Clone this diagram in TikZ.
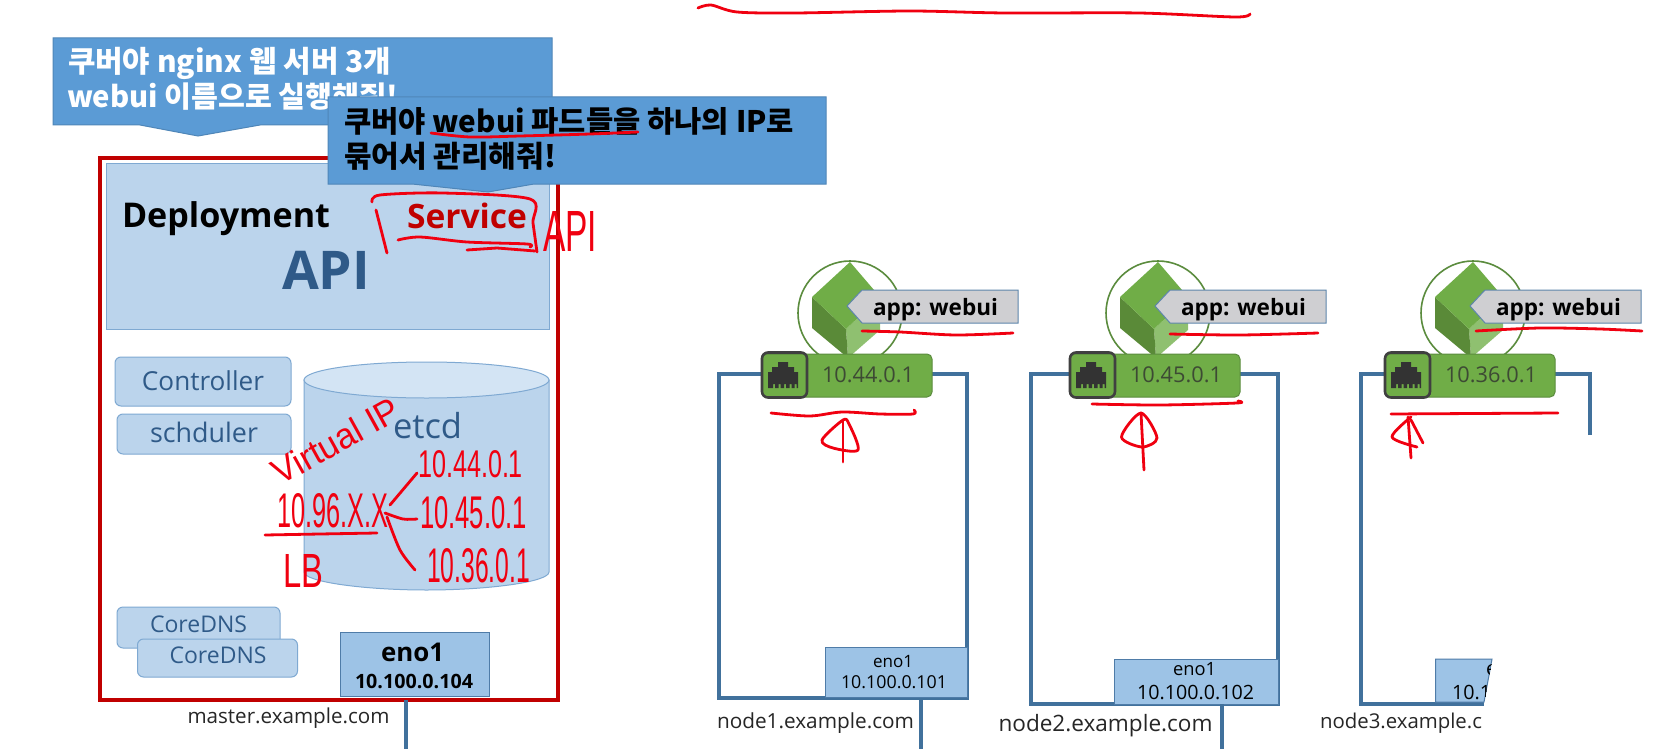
\documentclass[tikz,border=0pt]{standalone}
\usepackage{fontspec}
\setmainfont{Open Sans}
\newfontfamily\kr{Noto Sans CJK KR}
\newfontfamily\handf{Liberation Sans}
\definecolor{calloutfill}{HTML}{5B9BD5}
\definecolor{calloutedge}{HTML}{4F86B8}
\definecolor{mastred}{HTML}{C00000}
\definecolor{lightblue}{HTML}{BBD4EC}
\definecolor{lightedge}{HTML}{7FA9D2}
\definecolor{cyltop}{HTML}{D3E4F4}
\definecolor{darkblue}{HTML}{2F5A88}
\definecolor{enofill}{HTML}{9DC3E6}
\definecolor{enoedge}{HTML}{4F7CA8}
\definecolor{nodeline}{HTML}{41719C}
\definecolor{podmid}{HTML}{70AD47}
\definecolor{poddark}{HTML}{5A8A38}
\definecolor{podlight}{HTML}{8FC070}
\definecolor{podedge}{HTML}{5B8C3E}
\definecolor{iptext}{HTML}{3D4A34}
\definecolor{tagfill}{HTML}{CFCFD2}
\definecolor{pen}{HTML}{F00010}
\newcommand{\fitw}[2]{\resizebox{#1pt}{!}{#2}}
\newcommand{\hw}[3]{\resizebox{#1pt}{#2pt}{\handf #3}}
\tikzset{
  txt/.style={inner sep=0pt,outer sep=0pt,anchor=base},
  txtw/.style={inner sep=0pt,outer sep=0pt,anchor=base west},
  boxnw/.style={anchor=north west,inner sep=0pt,outer sep=0pt},
  apibox/.style={boxnw,fill=lightblue,draw=lightedge,line width=1pt},
  compbox/.style={boxnw,fill=lightblue,draw=lightedge,line width=1pt,rounded corners=6pt},
  enobox/.style={boxnw,fill=enofill,draw=enoedge,line width=1pt},
  callout/.style={fill=calloutfill,draw=calloutedge,line width=1pt},
  hostframe/.style={draw=nodeline,line width=4pt,line cap=butt,line join=miter},
  wire/.style={draw=nodeline,line width=3.5pt},
  penline/.style={draw=pen,line width=2.8pt,line cap=round,line join=round},
  blue label/.style={txt,text=darkblue},
  plain label/.style={txtw,text=black!85},
  penhand/.style={txtw,text=pen}
}
\newcommand{\podgroup}[3]{%
  \begin{scope}[shift={(#2,0)}]
    \node[circle,draw=podedge,line width=1.6pt,minimum size=104pt,inner sep=0pt] (pod#1) at (850,313) {};
    \fill[podlight] (846,329) -- (880,297) -- (880,330) -- (848,358) -- cycle;
    \fill[poddark] (812,297) -- (846,329) -- (848,358) -- (812,328) -- cycle;
    \fill[podmid] (850,262) -- (880,297) -- (846,329) -- (812,297) -- cycle;
    \node[boxnw,fill=podmid,draw=podedge,line width=1pt,rounded corners=5pt,minimum width=170pt,minimum height=43pt] (ip#1) at (762,354) {};
    \node[txtw,text=iptext] (iptxt#1) at (822,382) {\fitw{92}{#3}};
    \node[boxnw,draw=black!75,line width=2.6pt,rounded corners=6pt,minimum width=45pt,minimum height=45pt] (port#1) at (762,352.5) {};
    \fill[black!80] (778,362) -- (788,362) -- (788,367) -- (794,367) -- (794,372) -- (798,372) -- (798,388)
      -- (796.5,388) -- (796.5,384) -- (794.5,384) -- (794.5,388) -- (791.5,388) -- (791.5,384) -- (789.5,384) -- (789.5,388)
      -- (786,388) -- (786,384) -- (784,384) -- (784,388) -- (780.5,388) -- (780.5,384) -- (778.5,384) -- (778.5,388)
      -- (775,388) -- (775,384) -- (773,384) -- (773,388) -- (768,388) -- (768,372) -- (772,372) -- (772,367) -- (778,367) -- cycle;
    \draw[fill=tagfill,draw=nodeline!85,line width=1pt] (847,306) -- (862,290) -- (1018,290) -- (1018,323) -- (862,323) -- cycle;
    \node[txtw,font=\bfseries,text=black] (tag#1) at (873,315) {\fitw{125}{app: webui}};
  \end{scope}%
}
\begin{document}
\begin{tikzpicture}[x=1pt,y=-1pt]
\useasboundingbox (0,0) rectangle (1669,749);
\fill[white] (0,0) rectangle (1669,749);

% first callout
\draw[callout] (53,38) -- (552,38) -- (552,125) -- (260,125) -- (198,136) -- (140,125) -- (53,125) -- cycle;
\node[txtw,font=\kr\bfseries,text=white] (c1a) at (68,73) {\fitw{323}{쿠버야 nginx 웹 서버 3개}};
\node[txtw,font=\kr\bfseries,text=white] (c1b) at (67,108) {\fitw{331}{webui 이름으로 실행해줘!}};

% master
\node[boxnw,draw=mastred,line width=4pt,minimum width=458pt,minimum height=542pt] (master) at (100,158) {};
\node[apibox,minimum width=443pt,minimum height=166pt] (apibg) at (106,163) {};
\node[txtw,font=\bfseries,text=black] (deploy) at (122,227) {\fitw{208}{Deployment}};
\node[txtw,font=\bfseries,text=mastred] (service) at (407,228) {\fitw{120}{Service}};
\node[txtw,font=\bfseries,text=darkblue] (api) at (282,289) {\fitw{88}{API}};

\node[compbox,minimum width=176pt,minimum height=49pt] (ctrl) at (115,357) {};
\node[blue label] at (203,390) {\fitw{122}{Controller}};
\node[compbox,minimum width=174pt,minimum height=40pt] (sched) at (117,414) {};
\node[blue label] at (204,442) {\fitw{108}{schduler}};

\draw[fill=lightblue,draw=lightedge,line width=1pt] (304,380) -- (304,572) .. controls (304,582) and (365,590) .. (426.5,590) .. controls (488,590) and (549,582) .. (549,572) -- (549,380) -- cycle;
\draw[fill=cyltop,draw=lightedge,line width=1pt] (426.5,380) ellipse[x radius=122.5pt,y radius=18pt];
\node[txtw,text=darkblue] (etcd) at (393,438) {\fitw{69}{etcd}};

\node[compbox,minimum width=163pt,minimum height=41pt] (dns1) at (117,607) {};
\node[blue label] at (198.5,632) {\fitw{97}{CoreDNS}};
\node[compbox,minimum width=160pt,minimum height=38pt] (dns2) at (137.5,639) {};
\node[blue label] at (218,663) {\fitw{97}{CoreDNS}};

\node[enobox,minimum width=149pt,minimum height=64pt] (enom) at (340,632) {};
\node[txtw,font=\bfseries] at (381,661) {\fitw{63}{eno1}};
\node[txtw,font=\bfseries] at (355,688) {\fitw{118}{10.100.0.104}};
\node[plain label] (mastername) at (187.5,723) {\fitw{202}{master.example.com}};
\coordinate (mend) at (406,749);
\draw[wire] (mend |- master.south) -- (mend);

% second callout
\draw[callout] (328,97) -- (826,97) -- (826,184) -- (534,184) -- (488,192) -- (412,184) -- (328,184) -- cycle;
\node[txtw,font=\kr\bfseries,text=black] (c2a) at (344,132) {\fitw{450}{쿠버야 webui 파드들을 하나의 IP로}};
\node[txtw,font=\kr\bfseries,text=black] (c2b) at (344,167) {\fitw{212}{묶어서 관리해줘!}};

% worker frames
\node[boxnw,draw=nodeline,line width=4pt,minimum width=248pt,minimum height=324pt] (host1) at (719,374) {};
\node[boxnw,draw=nodeline,line width=4pt,minimum width=247pt,minimum height=330pt] (host2) at (1031,374) {};
\draw[hostframe] (1590,435) -- (1590,374) -- (1361,374) -- (1361,704) -- (1484,704);

\node[enobox,minimum width=142pt,minimum height=50pt] (eno1box) at (825,647) {};
\node[txtw] at (873,667) {\fitw{40}{eno1}};
\node[txtw] at (841,688) {\fitw{106}{10.100.0.101}};
\node[enobox,minimum width=164pt,minimum height=45pt] (eno2box) at (1114,659) {};
\node[txtw] at (1173,675) {\fitw{43}{eno1}};
\node[txtw] at (1137,699) {\fitw{117}{10.100.0.102}};
\draw[fill=enofill,draw=enoedge,line width=1pt] (1435.5,659) -- (1492,659) -- (1484,702) -- (1435.5,702) -- cycle;
\begin{scope}
  \clip (1435.5,659) -- (1492,659) -- (1484,702) -- (1435.5,702) -- cycle;
  \node[txtw] (eno3part) at (1486,675) {\fontsize{19.7}{20}\selectfont e};
  \node[txtw] (ip3part) at (1452,699) {\fontsize{19.7}{20}\selectfont 10.1};
\end{scope}

\coordinate (end1) at (921,749);
\coordinate (end2) at (1222,749);
\draw[wire] (end1 |- host1.south) -- (end1);
\draw[wire] (end2 |- host2.south) -- (end2);
\node[plain label] (name1) at (717,728) {\fitw{197}{node1.example.com}};
\node[plain label] (name2) at (998.5,731) {\fitw{214}{node2.example.com}};
\node[plain label] (name3) at (1320,728) {\fitw{162}{node3.example.c}};

\podgroup{a}{0}{10.44.0.1}
\podgroup{b}{308}{10.45.0.1}
\podgroup{c}{623}{10.36.0.1}

% handwriting
\draw[penline] plot[smooth] coordinates {(698,8) (711,5) (737,12) (795,13) (910,11) (1005,13) (1139,13) (1235,17) (1250,14)};
% on callout
\draw[penline] plot[smooth] coordinates {(431,133) (470,137) (520,136) (590,134) (638,132)};
% around Service
\draw[penline] plot[smooth] coordinates {(372,202) (380,195) (443,193) (530,199) (533,223) (537,252)};
\draw[penline] (376,210) -- (387,253);
\draw[penline] plot[smooth] coordinates {(398,240) (420,237) (467,242) (527,244) (530,247)};
\draw[penline] (467,250) -- (497,248) -- (535,251);
\node[penhand] (apihand) at (543,251) {\hw{54}{40}{API}};
% etcd area
\node[txt,text=pen,rotate=29] (vip) at (342,452) {\hw{140}{26}{Virtual IP}};
\node[penhand] (vlan) at (277,527) {\hw{111}{34}{10.96.X.X}};
\draw[penline] plot[smooth] coordinates {(265,535) (320,534) (377,533)};
\node[penhand] (lb) at (283,587) {\hw{40}{33}{LB}};
\node[penhand] (t1) at (418,477) {\hw{105}{27}{10.44.0.1}};
\node[penhand] (t2) at (420,528) {\hw{107}{32}{10.45.0.1}};
\node[penhand] (t3) at (427,582) {\hw{103}{34}{10.36.0.1}};
\draw[penline] (390,505) -- (417,473);
\draw[penline] plot[smooth] coordinates {(385,513) (403,519) (417,519)};
\draw[penline] plot[smooth] coordinates {(387,517) (400,550) (415,570)};
% under tags
\draw[penline] plot[smooth] coordinates {(862,331) (900,332) (956,335) (1013,333)};
\draw[penline] plot[smooth] coordinates {(1170,334) (1240,335) (1318,333)};
\draw[penline] plot[smooth] coordinates {(1476,331) (1540,328) (1600,329) (1642,331)};
% under IPs
\draw[penline] plot[smooth] coordinates {(771,413) (810,416) (842,412) (880,414) (913,414) (914,410)};
\draw[penline] plot[smooth] coordinates {(1092,404) (1160,405) (1237,403) (1238,401)};
\draw[penline] (1391,414) -- (1558,413);
% pod arrows
\draw[penline] plot[smooth cycle] coordinates {(843,420) (822,440) (833,448) (858,450) (849,424)};
\draw[penline] (843,420) -- (843,462);
\draw[penline] plot[smooth cycle] coordinates {(1141,413) (1121.5,437) (1142,447) (1157,438)};
\draw[penline] (1141,413) -- (1144,470);
\draw[penline] plot[smooth] coordinates {(1411,417) (1392,437) (1417,447)};
\draw[penline] (1408,417) -- (1411,458);
\draw[penline] (1411,420) -- (1423,443);
\end{tikzpicture}
\end{document}
